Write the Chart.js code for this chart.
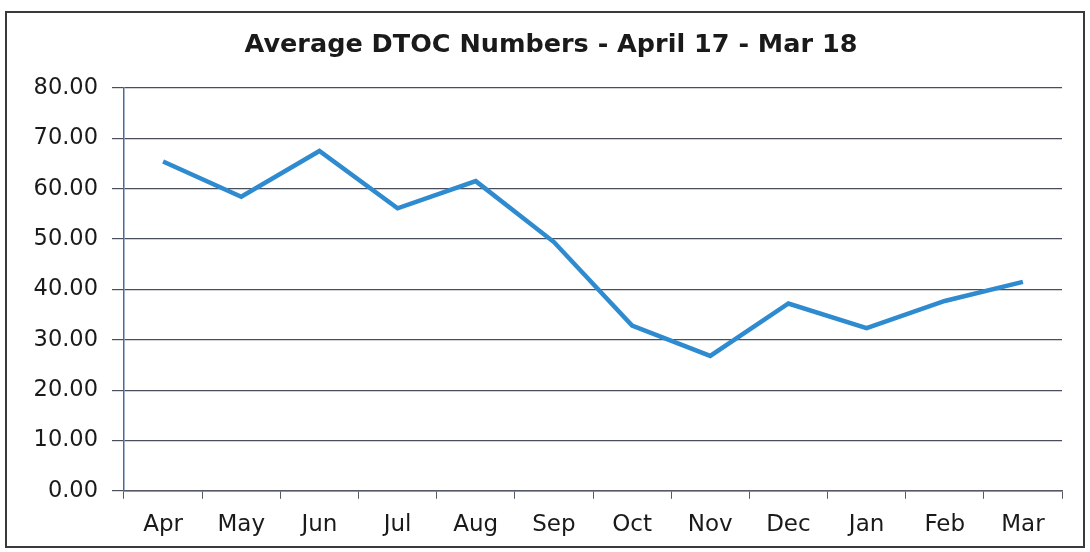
<!DOCTYPE html>
<html>
<head>
<meta charset="utf-8">
<script src="https://cdn.jsdelivr.net/npm/chart.js@4/dist/chart.umd.min.js"></script>
<style>
  html, body { margin: 0; padding: 0; background: #ffffff; }
  #wrap { position: relative; width: 1090px; height: 552px; }
</style>
</head>
<body>
<div id="wrap"><canvas id="c" width="1090" height="552"></canvas></div>
<script>
const months = ["Apr", "May", "Jun", "Jul", "Aug", "Sep", "Oct", "Nov", "Dec", "Jan", "Feb", "Mar"];
const dtocAverage = [65.4, 58.4, 67.5, 56.1, 61.5, 49.4, 32.8, 26.8, 37.2, 32.3, 37.7, 41.5];
const yTicks = [0, 10, 20, 30, 40, 50, 60, 70, 80];
const chartTitle = "Average DTOC Numbers - April 17 - Mar 18";

const framePlugin = {
  id: 'frame',
  beforeDraw(chart) {
    const ctx = chart.ctx;
    ctx.save();
    ctx.fillStyle = '#ffffff';
    ctx.fillRect(0, 0, chart.width, chart.height);
    ctx.restore();
  },
  afterDraw(chart) {
    const ctx = chart.ctx;
    ctx.save();
    ctx.strokeStyle = '#3a3a3a';
    ctx.lineWidth = 2;
    ctx.strokeRect(6, 12, 1078, 535);
    ctx.fillStyle = '#1a1a1a';
    ctx.font = 'bold 25.5px "DejaVu Sans"';
    ctx.textAlign = 'center';
    ctx.textBaseline = 'middle';
    ctx.fillText(chartTitle, 551, 45);
    ctx.restore();
  }
};

new Chart(document.getElementById('c'), {
  type: 'line',
  data: {
    labels: months,
    datasets: [{
      label: 'Average DTOC',
      data: dtocAverage,
      borderColor: '#2E8BCF',
      borderWidth: 4.5,
      pointRadius: 0,
      tension: 0,
      fill: false
    }]
  },
  options: {
    responsive: false,
    animation: false,
    layout: { padding: { left: 0, right: 28, top: 88, bottom: 1.6 } },
    plugins: {
      legend: { display: false },
      tooltip: { enabled: false },
      title: { display: false }
    },
    scales: {
      x: {
        offset: true,
        grid: {
          offset: true,
          drawOnChartArea: false,
          drawTicks: true,
          tickLength: 8,
          color: '#555a66',
          lineWidth: 1
        },
        border: { display: true, color: '#555a66', width: 1.5 },
        ticks: {
          color: '#1a1a1a',
          font: { family: 'DejaVu Sans', size: 23 },
          padding: 12,
          maxRotation: 0,
          autoSkip: false
        }
      },
      y: {
        min: 0,
        max: 80,
        afterBuildTicks(scale) {
          scale.ticks = yTicks.map(v => ({ value: v }));
        },
        afterFit(scale) { scale.width = 124; },
        grid: {
          color: '#4a4e5c',
          lineWidth: 1.2,
          drawTicks: true,
          tickLength: 12
        },
        border: { display: true, color: '#4a6a9a', width: 1.5 },
        ticks: {
          color: '#1a1a1a',
          font: { family: 'DejaVu Sans', size: 22.5 },
          padding: 14,
          callback: v => Number(v).toFixed(2)
        }
      }
    }
  },
  plugins: [framePlugin]
});
</script>
</body>
</html>
